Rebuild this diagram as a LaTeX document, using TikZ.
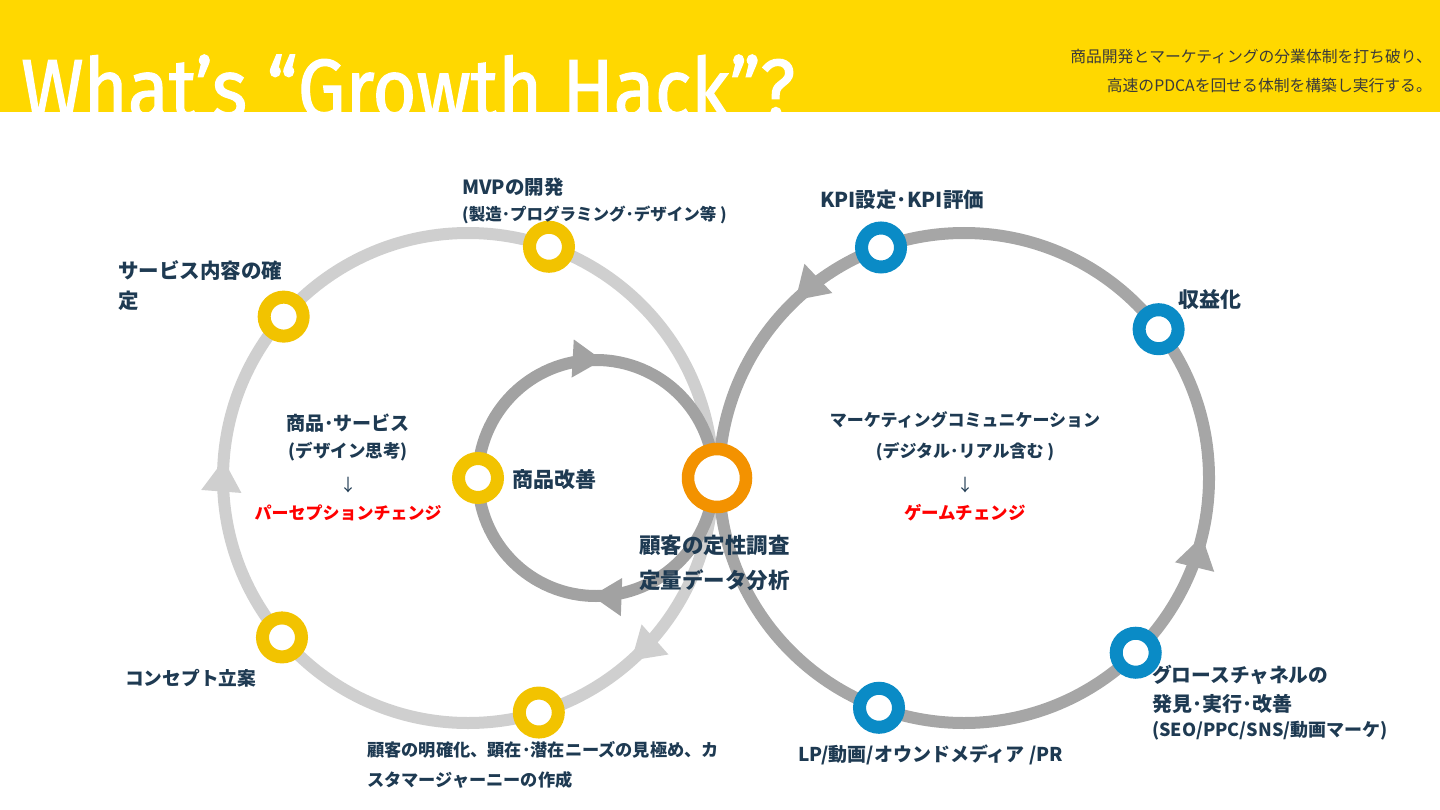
\documentclass[tikz,border=0pt]{standalone}
\usepackage{fontspec}
\usetikzlibrary{arrows.meta,decorations.markings}
\setmainfont{Noto Sans CJK JP}
\newfontfamily\titlef[FakeStretch=0.9,FakeBold=1.4]{Fira Sans}
\definecolor{band}{HTML}{FFD800}
\definecolor{ylw}{HTML}{F2C300}
\definecolor{blu}{HTML}{0A8BC6}
\definecolor{org}{HTML}{F39200}
\definecolor{navy}{HTML}{1E3A52}
\definecolor{hdr}{HTML}{3A3A3A}
\definecolor{redt}{HTML}{FF0000}
\definecolor{lgray}{HTML}{CFCFCF}
\definecolor{mgray}{HTML}{A6A6A6}
\definecolor{igray}{HTML}{A2A2A2}
\newcommand\fs[1]{\fontsize{#1}{#1}\selectfont}
\begin{document}
\begin{tikzpicture}[x=1pt,y=-1pt,
  lab/.style={font=\bfseries\fs{17}, text=navy, inner sep=0pt},
  ring/.style={circle, draw=#1, line width=13pt, minimum size=39pt, inner sep=0pt, fill=white},
  loop/.style={line width=12pt},
]
\useasboundingbox (0,0) rectangle (1440,810);
\fill[band] (0,0) rectangle (1440,112);
\node[anchor=base west, text=white, inner sep=0pt, font=\titlef\fs{84}] (title) at (21,118) {What’s “Growth Hack”?};
\node[anchor=east, inner sep=0pt, text=hdr, font=\fs{15.8}] (h1) at (1432,57) {商品開発とマーケティングの分業体制を打ち破り、};
\node[anchor=east, inner sep=0pt, text=hdr, font=\fs{15.8}] (h2) at (1432,85) {高速のPDCAを回せる体制を構築し実行する。};

% loops
\draw[loop, lgray, postaction={decorate}, decoration={markings,
   mark=at position 0.134 with {\arrow[lgray]{Triangle[width=38pt,length=32pt]}},
   mark=at position 0.512 with {\arrow[lgray]{Triangle[width=38pt,length=32pt]}}}]
   (468,478) ++(0:245) arc[start angle=0, end angle=360, radius=245];
\draw[loop, mgray, postaction={decorate}, decoration={markings,
   mark=at position 0.371 with {\arrow[mgray]{Triangle[width=38pt,length=32pt]}},
   mark=at position 0.962 with {\arrow[mgray]{Triangle[width=38pt,length=32pt]}}}]
   (964,478) ++(360:245) arc[start angle=360, end angle=0, radius=245];
\draw[loop, igray, postaction={decorate}, decoration={markings,
   mark=at position 0.256 with {\arrow[igray]{Triangle[width=36pt,length=30pt]}},
   mark=at position 0.759 with {\arrow[igray]{Triangle[width=36pt,length=30pt]}}}]
   (596,478) ++(0:118) arc[start angle=0, end angle=360, radius=118];

% rings
\node[ring=ylw] (y1) at ([shift={(221.2:245)}]468,478) {};
\node[ring=ylw] (y2) at ([shift={(289.3:245)}]468,478) {};
\node[ring=ylw] (y3) at ([shift={(139.4:245)}]468,478) {};
\node[ring=ylw] (y4) at ([shift={(73.2:245)}]468,478) {};
\node[ring=ylw] (y5) at (478,478) {};
\node[ring=blu] (b1) at ([shift={(250.2:245)}]964,478) {};
\node[ring=blu] (b2) at ([shift={(322.6:245)}]964,478) {};
\node[ring=blu] (b3) at ([shift={(45.5:245)}]964,478) {};
\node[ring=blu] (b4) at ([shift={(110.3:245)}]964,478) {};
\node[circle, draw=org, line width=12.5pt, minimum size=58pt, inner sep=0pt, fill=white] (o1) at (717,478) {};

% labels
\node[lab, anchor=west, font=\bfseries\fs{19.5}] (t1) at (462,187) {MVPの開発};
\node[lab, anchor=west, font=\bfseries\fs{16.5}] (t2) at (462,215) {(製造･プログラミング･デザイン等 )};
\node[lab, anchor=west, font=\bfseries\fs{20.5}] (t3) at (820,200) {KPI設定･KPI評価};
\node[lab, anchor=west, font=\bfseries\fs{20.5}] (t4) at (118,271) {サービス内容の確};
\node[lab, anchor=west, font=\bfseries\fs{20.5}] (t5) at (118,301) {定};
\node[lab, anchor=west, font=\bfseries\fs{21}] (t6) at (1178,300) {収益化};
\node[lab, font=\bfseries\fs{19}] (t7) at (348,423) {商品･サービス};
\node[lab, font=\bfseries\fs{17.5}] (t8) at (348,452) {(デザイン思考)};
\node[lab, font=\fs{17}] (t9) at (348,485) {↓};
\node[lab, text=redt] (t10) at (348,513) {パーセプションチェンジ};
\node[lab, anchor=west, font=\bfseries\fs{21}] (t11) at (512,480) {商品改善};
\node[lab] (t12) at (965,420) {マーケティングコミュニケーション};
\node[lab] (t13) at (965,452) {(デジタル･リアル含む )};
\node[lab, font=\fs{17}] (t14) at (965,485) {↓};
\node[lab, text=redt, font=\bfseries\fs{17.5}] (t15) at (965,513) {ゲームチェンジ};
\node[lab, anchor=west, font=\bfseries\fs{21.5}] (t16) at (639,545) {顧客の定性調査};
\node[lab, anchor=west, font=\bfseries\fs{21.5}] (t17) at (639,580) {定量データ分析};
\node[lab, anchor=west, font=\bfseries\fs{18.7}] (t18) at (125,678) {コンセプト立案};
\node[lab, anchor=west, font=\bfseries\fs{17.2}] (t19) at (367,750) {顧客の明確化、顕在･潜在ニーズの見極め、カ};
\node[lab, anchor=west, font=\bfseries\fs{17.2}] (t20) at (367,780) {スタマージャーニーの作成};
\node[lab, anchor=west, font=\bfseries\fs{19}] (t21) at (798,755) {LP/動画/オウンドメディア /PR};
\node[lab, anchor=west, font=\bfseries\fs{19.7}] (t22) at (1152,675) {グロースチャネルの};
\node[lab, anchor=west, font=\bfseries\fs{20}] (t23) at (1152,704) {発見･実行･改善};
\node[lab, anchor=west, font=\bfseries\fs{18}] (t24) at (1152,731) {(SEO/PPC/SNS/動画マーケ)};
\end{tikzpicture}
\end{document}
